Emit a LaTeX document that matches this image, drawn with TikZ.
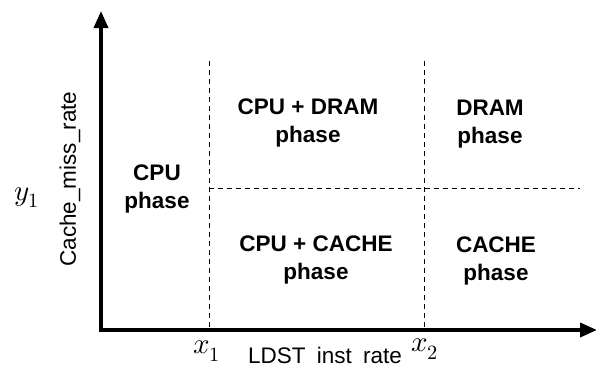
\documentclass[tikz,border=0pt]{standalone}
\usepackage{fontspec}
\setmainfont{Liberation Sans}
\usepackage{unicode-math}
\usetikzlibrary{arrows.meta}
\begin{document}
\begin{tikzpicture}[x=1pt,y=-1pt,
  axis/.style={line width=3.6pt,-{Triangle[length=17pt,width=14pt]}},
  divider/.style={line width=0.9pt,dash pattern=on 5pt off 4pt},
  phase/.style={font=\fontsize{22.5}{28}\selectfont\bfseries,align=center,inner sep=0pt},
  axlabel/.style={font=\fontsize{22.5}{25}\selectfont,inner sep=0pt},
  mathlabel/.style={font=\fontsize{29}{30}\selectfont,inner sep=0pt}]
  \useasboundingbox (0,0) rectangle (596,368);
  % axes
  \coordinate (O) at (101,330);
  \coordinate (ytop) at (101,11);
  \coordinate (xend) at (597,330);
  % phase boundaries
  \coordinate (x1top) at (209,61);
  \coordinate (x1bot) at (209,330);
  \coordinate (x2top) at (424,61);
  \coordinate (x2bot) at (424,330);
  \coordinate (hleft) at (209,188);
  \coordinate (hright) at (580,188);
  \draw[divider] (x1top) -- (x1bot);
  \draw[divider] (x2top) -- (x2bot);
  \draw[divider] (hleft) -- (hright);
  \draw[axis] (O) -- (ytop);
  \draw[axis] ([xshift=-1.8pt]O) -- (xend);
  % phase labels
  \node[phase] (cpu) at (157,189) {CPU\\phase};
  \node[phase] (cpudram) at (308,123) {CPU + DRAM\\phase};
  \node[phase] (dram) at (490,124) {DRAM\\phase};
  \node[phase] (cpucache) at (316,260) {CPU + CACHE\\phase};
  \node[phase] (cache) at (496,261) {CACHE\\phase};
  % axis labels
  \node[axlabel,rotate=90] (ylab) at (70,179) {Cache\_miss\_rate};
  \node[axlabel] (xlab) at (325,355) {LDST\enspace inst\enspace rate};
  \node[mathlabel] (y1) at (27,198) {$y_1$};
  \node[mathlabel] (x1) at (207,351) {$x_1$};
  \node[mathlabel] (x2) at (425,349) {$x_2$};
\end{tikzpicture}
\end{document}
